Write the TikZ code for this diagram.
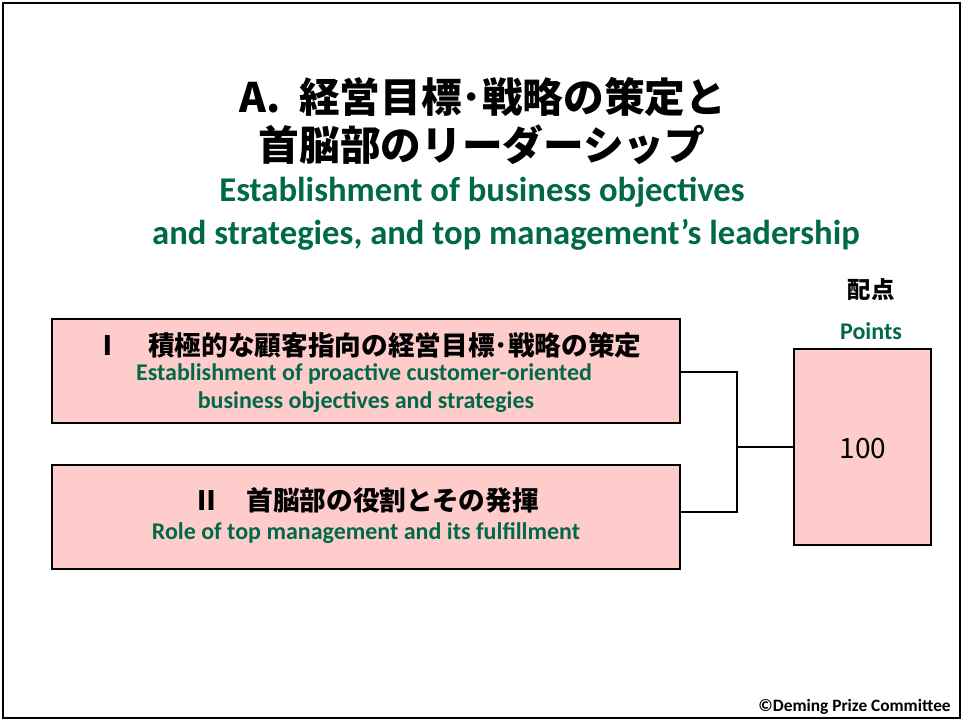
\documentclass[tikz,border=0pt]{standalone}
\usepackage{fontspec}
\setmainfont{Carlito}
\newfontfamily\jp{Noto Sans CJK JP}
\newfontfamily\lat{Carlito}
\definecolor{dgreen}{RGB}{0,105,72}
\definecolor{boxpink}{RGB}{255,204,204}
\begin{document}
\begin{tikzpicture}[x=0.75pt,y=-0.75pt,
  frame/.style={draw=black,line width=1.5pt},
  itembox/.style={draw=black,fill=boxpink,line width=1.5pt,minimum width=628*0.75pt,minimum height=104*0.75pt,inner sep=0pt},
  scorebox/.style={draw=black,fill=boxpink,line width=1.5pt,minimum width=137*0.75pt,minimum height=196*0.75pt,inner sep=0pt},
  link/.style={draw=black,line width=1.5pt},
  jptitle/.style={font=\jp\bfseries\fontsize{30.5}{36}\selectfont,inner sep=0pt},
  entitle/.style={font=\lat\bfseries\fontsize{26}{30}\selectfont,text=dgreen,inner sep=0pt},
  jpitem/.style={font=\jp\bfseries\fontsize{20}{24}\selectfont,inner sep=0pt},
  enitem/.style={font=\lat\bfseries\fontsize{18}{22}\selectfont,text=dgreen,inner sep=0pt}]
  \useasboundingbox (0,0) rectangle (963,721);
  \draw[frame] (3,3) rectangle (960,718);

  % heading
  \node[jptitle] (t1) at (483,97) {A.\hspace{0.45em}経営目標･戦略の策定と};
  \node[jptitle] (t2) at (482,145) {首脳部のリーダーシップ};
  \node[entitle] (e1) at (482,192) {Establishment of business objectives};
  \node[entitle] (e2) at (506,235) {and strategies, and top management’s leadership};

  % item boxes
  \node[itembox] (b1) at (366,371) {};
  \node[itembox] (b2) at (366,516.5) {};
  \node[jpitem] (b1j) at (368,345) {Ⅰ　積極的な顧客指向の経営目標･戦略の策定};
  \node[enitem] (b1e) at (364,374) {Establishment of proactive customer-oriented};
  \node[enitem] (b1f) at (366,402) {business objectives and strategies};
  \node[jpitem] (b2j) at (366,500) {Ⅱ　首脳部の役割とその発揮};
  \node[enitem] (b2e) at (366,533) {Role of top management and its fulfillment};

  % score column
  \node[font=\jp\bfseries\fontsize{17.5}{21}\selectfont,inner sep=0pt] (ph) at (871,290) {配点};
  \node[enitem] (pe) at (871,331) {Points};
  \node[scorebox] (sc) at (862.5,447) {};
  \node[font=\jp\fontsize{21}{25}\selectfont,inner sep=0pt] (sv) at (863,449) {100};

  % connectors
  \coordinate (j) at (737,447);
  \draw[link] ([yshift=-0.75pt]b1.east) -| (j);
  \draw[link] (b2.east |- 0,512) -| (j);
  \draw[link] (j) -- (sc.west);

  % footer
  \node[font=\lat\bfseries\fontsize{13}{15}\selectfont,anchor=east,inner sep=0pt] (cr) at (951,707) {©Deming Prize Committee};
\end{tikzpicture}
\end{document}
